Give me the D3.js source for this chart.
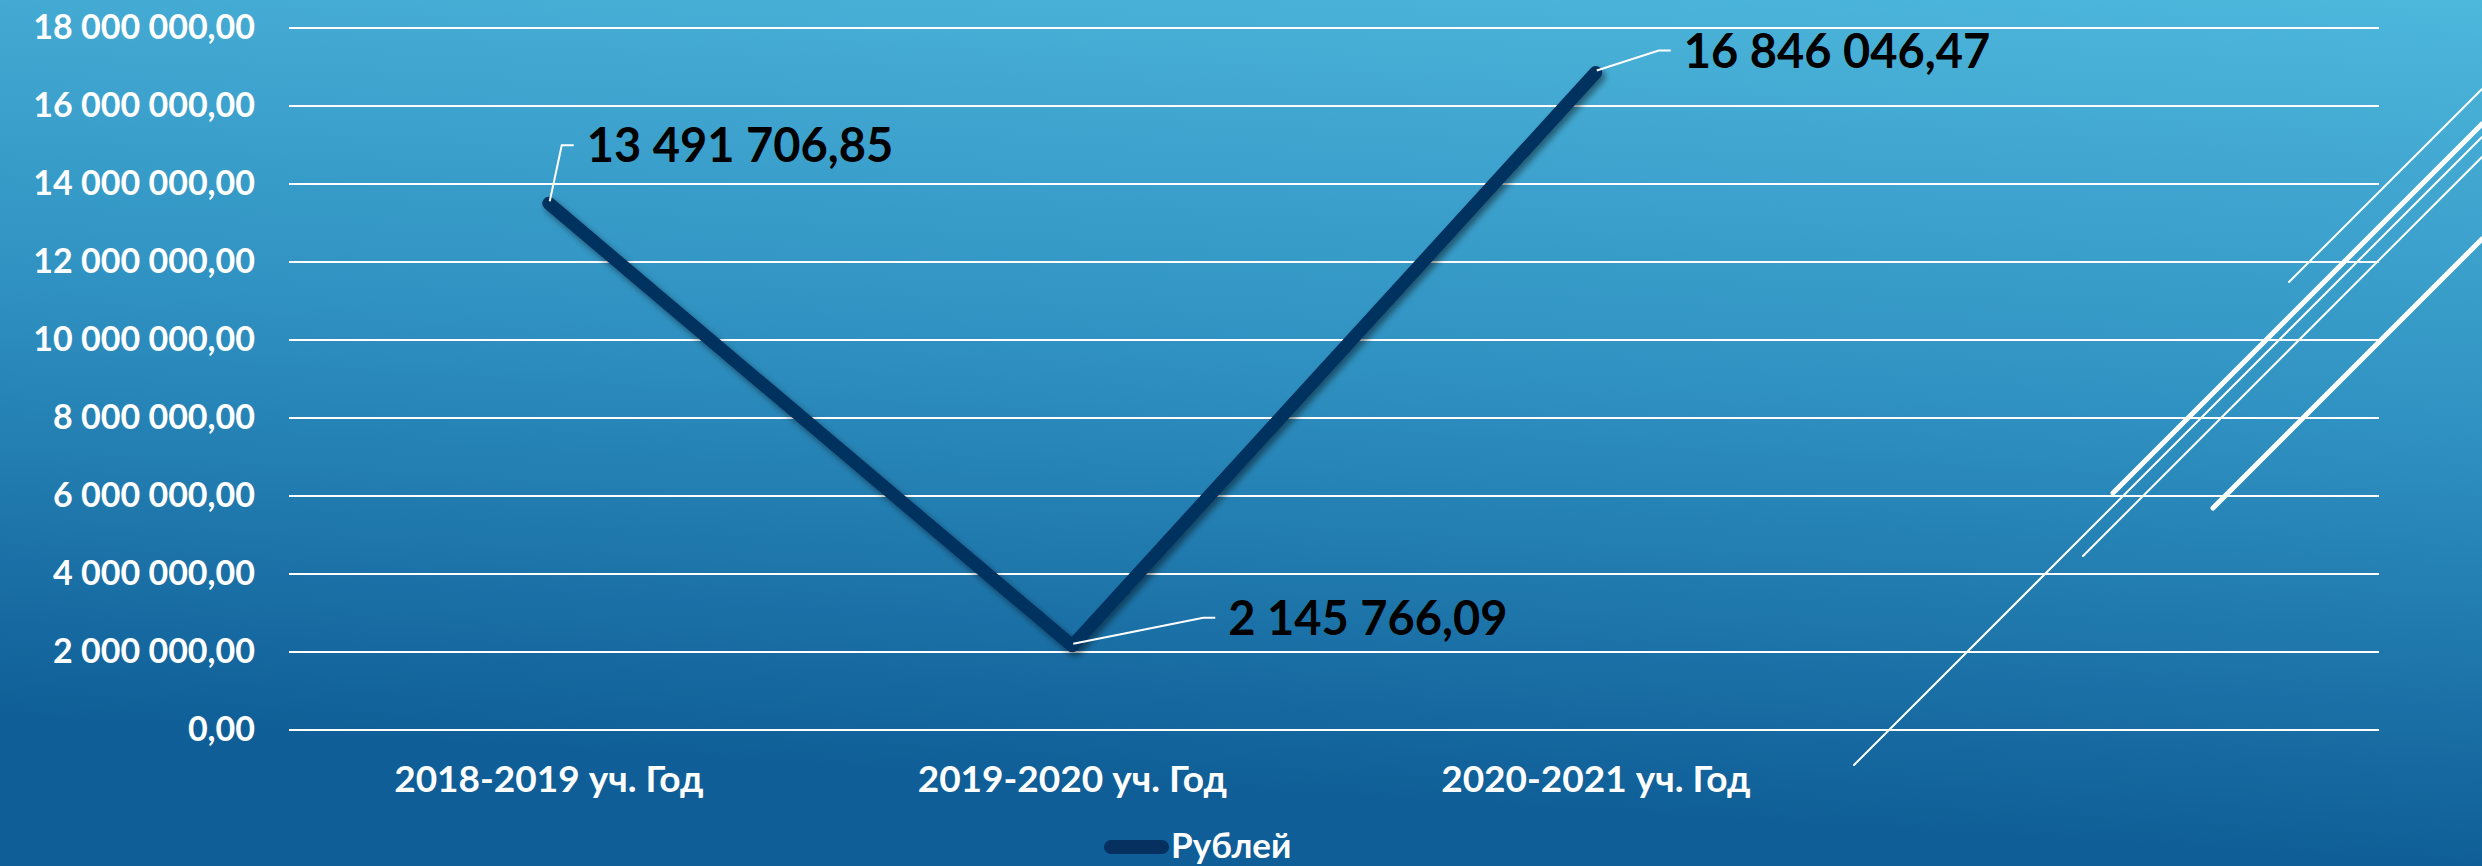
<!DOCTYPE html>
<html>
<head>
<meta charset="utf-8">
<script src="https://cdn.jsdelivr.net/npm/d3@7"></script>
<style>
  html, body { margin: 0; padding: 0; overflow: hidden; }
  svg { display: block; }
</style>
</head>
<body>
<div id="chart"></div>
<script>
var W = 2482, H = 866;

// data
var categories = ["2018-2019 уч. Год", "2019-2020 уч. Год", "2020-2021 уч. Год", ""];
var values = [13491706.85, 2145766.09, 16846046.47, null];
var seriesName = "Рублей";
var yTicks = [0, 2000000, 4000000, 6000000, 8000000, 10000000, 12000000, 14000000, 16000000, 18000000];

// label placement (dragged labels in the original), offsets from the point
var labelOffsets = [[38, -41], [156, -11], [88, -5]];

var ru = d3.formatLocale({decimal: ",", thousands: " ", grouping: [3], currency: ["", ""]});
var fmt = ru.format(",.2f");

var x = d3.scaleBand()
  .domain(categories)
  .range([287, 2381]);

var y = d3.scaleLinear()
  .domain([0, 18000000])
  .range([729.5, 27.5]);

var svg = d3.select("#chart").append("svg")
  .attr("width", W)
  .attr("height", H);

var defs = svg.append("defs");
var bg = defs.append("linearGradient")
  .attr("id", "bg")
  .attr("gradientUnits", "userSpaceOnUse")
  .attr("x1", 2482).attr("y1", 0)
  .attr("x2", 2430).attr("y2", 866);
bg.append("stop").attr("offset", 0).attr("stop-color", "#4eb7dc");
bg.append("stop").attr("offset", 0.5).attr("stop-color", "#2f91c1");
bg.append("stop").attr("offset", 1).attr("stop-color", "#0f5e97");

var sh = defs.append("filter").attr("id", "shadow")
  .attr("x", "-10%").attr("y", "-10%").attr("width", "120%").attr("height", "120%");
sh.append("feDropShadow")
  .attr("dx", 3).attr("dy", 4).attr("stdDeviation", 3)
  .attr("flood-color", "#000").attr("flood-opacity", 0.45);

svg.append("rect").attr("width", W).attr("height", H).attr("fill", "url(#bg)");

// theme decoration lines (right side)
var deco = [
  {x1: 2289, y1: 282, x2: 2482, y2: 89, w: 2},
  {x1: 2113, y1: 493, x2: 2482, y2: 124, w: 5},
  {x1: 1854, y1: 765, x2: 2482, y2: 137, w: 2},
  {x1: 2083, y1: 556, x2: 2482, y2: 157, w: 2},
  {x1: 2213, y1: 508, x2: 2482, y2: 239, w: 5}
];
svg.append("g").selectAll("line").data(deco).enter().append("line")
  .attr("x1", function(d) { return d.x1; })
  .attr("y1", function(d) { return d.y1; })
  .attr("x2", function(d) { return d.x2; })
  .attr("y2", function(d) { return d.y2; })
  .attr("stroke", "#fff")
  .attr("stroke-width", function(d) { return d.w; })
  .attr("stroke-linecap", "round");

// gridlines + y labels
var yAxis = d3.axisLeft(y)
  .tickValues(yTicks)
  .tickSize(-(x.range()[1] - x.range()[0] - 4))
  .tickPadding(34)
  .tickFormat(fmt);

var gy = svg.append("g")
  .attr("transform", "translate(" + (x.range()[0] + 2) + ",0)")
  .call(yAxis);
gy.select(".domain").remove();
gy.selectAll(".tick line").attr("stroke", "#fff").attr("stroke-width", 2);
gy.selectAll(".tick text")
  .attr("fill", "#fff")
  .style("font-family", "Lato, 'Open Sans', sans-serif")
  .style("font-weight", 700)
  .style("font-size", "34px");

// x labels
var xAxis = d3.axisBottom(x).tickSize(0).tickPadding(0);
var gx = svg.append("g")
  .attr("transform", "translate(0,792)")
  .call(xAxis);
gx.select(".domain").remove();
gx.selectAll(".tick text")
  .attr("dy", 0)
  .attr("fill", "#fff")
  .style("font-family", "Lato, 'Open Sans', sans-serif")
  .style("font-weight", 700)
  .style("font-size", "37px");

// line
var pts = categories.map(function(c, i) { return {c: c, v: values[i]}; })
  .filter(function(d) { return d.v != null; });

var line = d3.line()
  .x(function(d) { return x(d.c) + x.bandwidth() / 2; })
  .y(function(d) { return y(d.v); });

svg.append("path")
  .datum(pts)
  .attr("d", line)
  .attr("fill", "none")
  .attr("stroke", "#06305f")
  .attr("stroke-width", 13)
  .attr("stroke-linecap", "round")
  .attr("stroke-linejoin", "round")
  .attr("filter", "url(#shadow)");

// data labels with leader lines
var lab = svg.append("g").selectAll("g").data(pts).enter().append("g");

lab.append("polyline")
  .attr("points", function(d, i) {
    var px = x(d.c) + x.bandwidth() / 2, py = y(d.v);
    var lx = px + labelOffsets[i][0], ly = py + labelOffsets[i][1] - 17;
    return [[px + 1, py - 2], [lx - 25, ly], [lx - 13, ly]].join(" ");
  })
  .attr("fill", "none")
  .attr("stroke", "#fff")
  .attr("stroke-width", 2);

lab.append("text")
  .attr("x", function(d, i) { return x(d.c) + x.bandwidth() / 2 + labelOffsets[i][0]; })
  .attr("y", function(d, i) { return y(d.v) + labelOffsets[i][1]; })
  .attr("fill", "#000")
  .style("font-family", "Lato, 'Open Sans', sans-serif")
  .style("font-weight", 700)
  .style("font-size", "47px")
  .text(function(d) { return fmt(d.v); });

// legend
var leg = svg.append("g").attr("transform", "translate(1111,847)");
leg.append("line")
  .attr("x1", 0).attr("x2", 51)
  .attr("stroke", "#06305f")
  .attr("stroke-width", 14)
  .attr("stroke-linecap", "round");
leg.append("text")
  .attr("x", 60).attr("y", 11)
  .attr("fill", "#fff")
  .style("font-family", "Lato, 'Open Sans', sans-serif")
  .style("font-weight", 700)
  .style("font-size", "35px")
  .text(seriesName);
</script>
</body>
</html>
